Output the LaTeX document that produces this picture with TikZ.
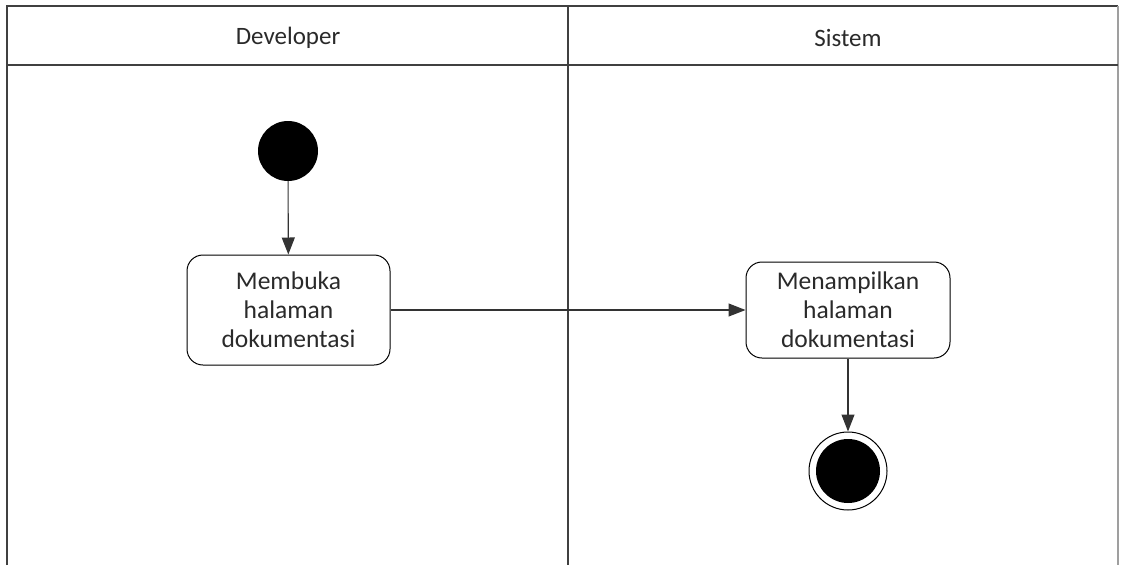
\documentclass[tikz,border=0pt]{standalone}
\usepackage{fontspec}
\setmainfont{Carlito}
\usetikzlibrary{arrows.meta}
\definecolor{lanecol}{HTML}{404040}
\definecolor{txtcol}{HTML}{2A2A2A}
\tikzset{
  lane/.style={draw=lanecol, line width=1.4pt},
  act/.style={draw=black, line width=1pt, rounded corners=16pt, fill=white,
    align=center, text=txtcol, font=\fontsize{25.5}{29}\selectfont,
    inner sep=0pt},
  hdr/.style={text=txtcol, font=\fontsize{25}{28}\selectfont},
  flow/.style={draw=black!80, line width=1.1pt, -{Triangle[length=17pt,width=13pt]}},
}
\begin{document}
\begin{tikzpicture}[x=1pt,y=-1pt]
\useasboundingbox (0,0) rectangle (1121,565);
% swimlane frame
\draw[lane] (7,565) -- (7,6) -- (1118,6);
\draw[lane, draw=lanecol!50] (1118,6) -- (1118,565);
\draw[lane] (7,65) -- (1118,65);
\draw[lane] (568,6) -- (568,565);
\node[hdr] (h1) at (288,38) {Developer};
\node[hdr] (h2) at (848,38) {Sistem};
% nodes
\node[circle, fill=black, minimum size=60pt, inner sep=0pt] (start) at (288,151) {};
\node[act, minimum width=203pt, minimum height=110pt] (a1) at (288.5,310) {Membuka\\halaman\\dokumentasi};
\node[act, minimum width=204pt, minimum height=96pt] (a2) at (848,310) {Menampilkan\\halaman\\dokumentasi};
\node[circle, draw=black, line width=1pt, fill=white, minimum size=78pt, inner sep=0pt] (end) at (848,471) {};
\node[circle, fill=black, minimum size=64pt, inner sep=0pt] (endin) at (end.center) {};
% flows
\draw[flow] (start) -- (a1);
\draw[flow] (a1) -- (a2);
\draw[flow] (a2) -- (end);
\end{tikzpicture}
\end{document}
